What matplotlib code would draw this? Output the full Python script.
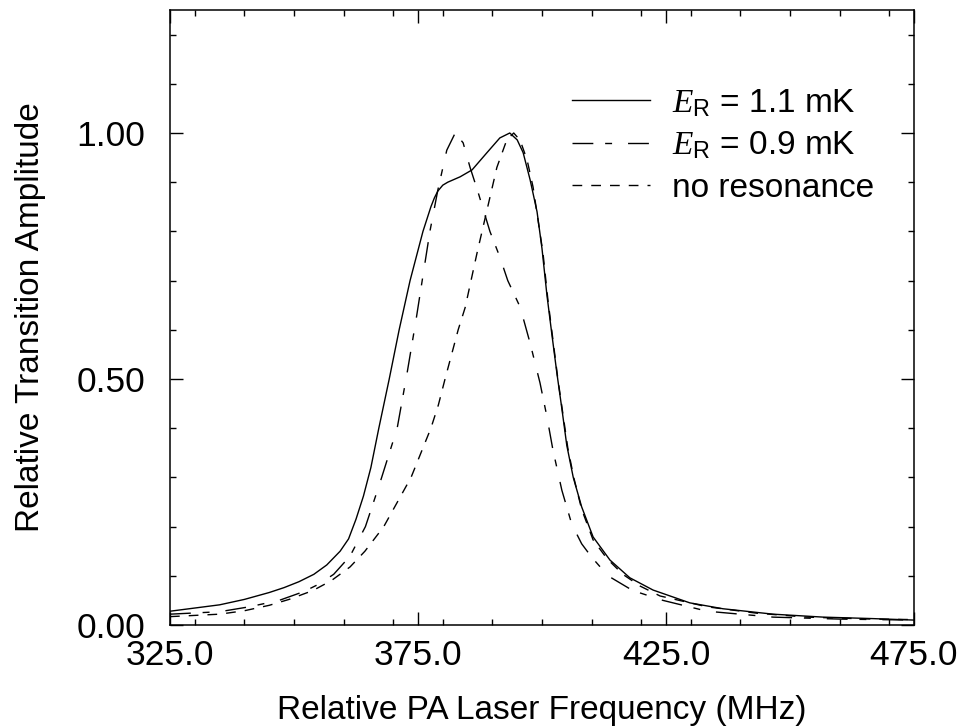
import matplotlib
matplotlib.use("Agg")
import matplotlib.pyplot as plt
from matplotlib.ticker import MultipleLocator, FixedLocator

plt.rcParams['font.family'] = ['Liberation Sans', 'DejaVu Sans']
plt.rcParams['mathtext.fontset'] = 'custom'
plt.rcParams['mathtext.it'] = 'Liberation Serif:italic'
plt.rcParams['mathtext.rm'] = 'Liberation Sans'

# E_R = 1.1 mK (solid)
x_11 = [325.0, 335.0, 340.0, 345.0, 348.0, 351.0, 354.0, 356.6, 359.3, 361.0,
        362.5, 364.0, 365.5, 367.1, 369.2, 371.2, 373.4, 376.0, 377.6, 378.3,
        379.0, 380.0, 381.0, 383.5, 385.9, 388.9, 391.5, 393.5, 395.0, 396.2,
        397.6, 399.0, 400.0, 401.0, 402.0, 403.0, 404.0, 405.0, 406.3, 408.0,
        410.3, 413.7, 417.7, 422.4, 429.8, 436.5, 446.6, 456.7, 466.7, 475.0]
y_11 = [0.028, 0.041, 0.052, 0.066, 0.076, 0.088, 0.103, 0.122, 0.150, 0.175,
        0.215, 0.262, 0.320, 0.400, 0.500, 0.600, 0.700, 0.800, 0.850, 0.868,
        0.882, 0.894, 0.900, 0.911, 0.925, 0.960, 0.990, 1.000, 0.986, 0.960,
        0.905, 0.840, 0.765, 0.670, 0.590, 0.512, 0.440, 0.365, 0.300, 0.240,
        0.179, 0.132, 0.096, 0.071, 0.045, 0.033, 0.022, 0.016, 0.013, 0.010]

# E_R = 0.9 mK (dash-dot)
x_09 = [325.0, 335.0, 341.0, 347.0, 352.0, 355.0, 358.0, 361.3, 364.4, 367.3,
        370.8, 372.8, 374.6, 377.4, 379.0, 380.8, 382.5, 384.1, 385.5, 387.1,
        389.5, 391.5, 393.1, 395.6, 397.6, 399.6, 401.0, 402.2, 404.0, 406.0,
        408.0, 410.0, 413.3, 418.3, 424.4, 433.3, 446.6, 460.0, 475.0]
y_09 = [0.022, 0.027, 0.037, 0.050, 0.068, 0.083, 0.103, 0.140, 0.200, 0.288,
        0.400, 0.512, 0.620, 0.800, 0.884, 0.965, 1.000, 0.980, 0.930, 0.880,
        0.800, 0.748, 0.700, 0.646, 0.573, 0.492, 0.423, 0.356, 0.274, 0.205,
        0.165, 0.138, 0.100, 0.070, 0.050, 0.028, 0.016, 0.012, 0.010]

# no resonance (dashed)
x_nr = [325.0, 335.0, 340.0, 345.0, 349.0, 353.8, 357.5, 361.3, 364.3, 368.1,
        373.6, 377.6, 379.1, 380.4, 383.1, 384.5, 386.9, 388.9, 390.9, 392.9,
        394.3, 395.6, 397.0, 398.2, 399.2, 400.2, 401.2, 402.2, 403.2, 404.2,
        405.2, 406.4, 408.0, 410.3, 413.1, 416.3, 419.8, 423.8, 433.3, 443.3,
        453.4, 466.7, 475.0]
y_nr = [0.017, 0.022, 0.029, 0.040, 0.052, 0.070, 0.090, 0.118, 0.150, 0.200,
        0.300, 0.400, 0.447, 0.498, 0.600, 0.645, 0.756, 0.843, 0.930, 0.986,
        1.000, 0.985, 0.945, 0.890, 0.823, 0.756, 0.660, 0.580, 0.500, 0.430,
        0.360, 0.300, 0.235, 0.173, 0.135, 0.103, 0.079, 0.059, 0.037, 0.024,
        0.016, 0.012, 0.011]

labels = [r'$E_\mathrm{R}$ = 1.1 mK', r'$E_\mathrm{R}$ = 0.9 mK', 'no resonance']
x_ticks = [325.0, 375.0, 425.0, 475.0]
x_ticklabels = ['325.0', '375.0', '425.0', '475.0']
y_ticks = [0.0, 0.5, 1.0]
y_ticklabels = ['0.00', '0.50', '1.00']

fig = plt.figure(figsize=(9.66, 7.27), dpi=100)
ax = fig.add_axes([170/966, 1-625/727, 744/966, 615/727])

ax.plot(x_11, y_11, color='black', lw=1.0, ls='-', label=labels[0])
ax.plot(x_09, y_09, color='black', lw=1.0, ls=(0, (15, 8.5, 5, 11.5)), label=labels[1])
ax.plot(x_nr, y_nr, color='black', lw=1.0, ls=(0, (7, 6.5)), label=labels[2])

ax.set_xlim(325, 475)
ax.set_ylim(0, 1.25)
ax.xaxis.set_major_locator(FixedLocator(x_ticks))
ax.set_xticklabels(x_ticklabels)
ax.xaxis.set_minor_locator(MultipleLocator(10))
ax.yaxis.set_major_locator(FixedLocator(y_ticks))
ax.set_yticklabels(y_ticklabels)
ax.yaxis.set_minor_locator(MultipleLocator(0.1))

ax.tick_params(which='both', direction='in', top=True, right=True, width=1.0)
ax.tick_params(which='major', length=9.4, labelsize=25.5)
ax.tick_params(which='minor', length=4.3)
ax.tick_params(axis='y', which='major', pad=18)
ax.tick_params(axis='x', which='major', pad=10)
for s in ax.spines.values():
    s.set_linewidth(1.1)

ax.set_xlabel('Relative PA Laser Frequency (MHz)', fontsize=24, labelpad=17)
ax.set_ylabel('Relative Transition Amplitude', fontsize=24, labelpad=22)

ax.legend(loc='center left', bbox_to_anchor=(0.540, 0.780), frameon=False,
          fontsize=24, handlelength=2.35, handletextpad=0.65, labelspacing=0.33,
          borderpad=0, borderaxespad=0)

fig.savefig('out.png', dpi=100)
